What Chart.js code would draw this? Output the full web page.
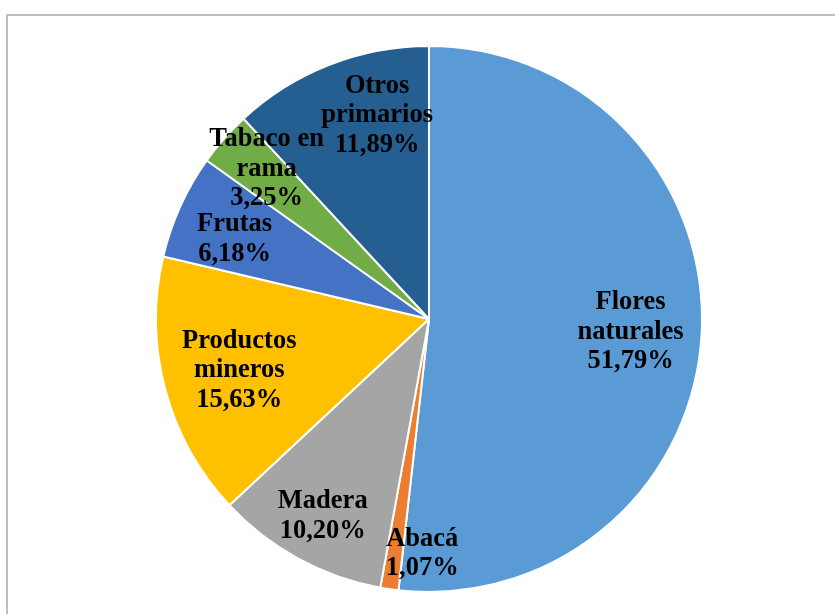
<!DOCTYPE html>
<html>
<head>
<meta charset="utf-8">
<script src="https://cdn.jsdelivr.net/npm/chart.js@4/dist/chart.umd.min.js"></script>
<style>
  html, body { margin: 0; padding: 0; background: #ffffff; }
  #wrap { position: relative; width: 835px; height: 614px; }
</style>
</head>
<body>
<div id="wrap"><canvas id="pieChart" width="835" height="614"></canvas></div>
<script>
// categories (lines as shown in the labels) and shares in %
var categories = [
  ['Flores', 'naturales'],
  ['Abacá'],
  ['Madera'],
  ['Productos', 'mineros'],
  ['Frutas'],
  ['Tabaco en', 'rama'],
  ['Otros', 'primarios']
];
var shares = [51.79, 1.07, 10.20, 15.63, 6.18, 3.25, 11.89];
var sliceColors = ['#5B9BD5', '#ED7D31', '#A5A5A5', '#FFC000', '#4472C4', '#70AD47', '#255E91'];

// where each label sits: fraction of radius, angle shift (deg) from the slice middle
var labelPlace = [
  { r: 0.74, da: 0.5 },
  { r: 0.86, da: -6.7 },
  { r: 0.82, da: -0.3 },
  { r: 0.72, da: -0.3 },
  { r: 0.77, da: -2.0 },
  { r: 0.81, da: 1.4 },
  { r: 0.77, da: 7.1 }
];

var framePlugin = {
  id: 'frame',
  beforeDraw: function(chart) {
    var c = chart.ctx;
    c.save();
    c.strokeStyle = '#BFBFBF';
    c.lineWidth = 2;
    c.strokeRect(7, 15, 900, 700);
    c.restore();
  }
};

var sliceLabels = {
  id: 'sliceLabels',
  afterDatasetsDraw: function(chart) {
    var c = chart.ctx;
    var meta = chart.getDatasetMeta(0);
    c.save();
    c.fillStyle = '#000000';
    c.font = 'bold 26.5px "Liberation Serif", "Times New Roman", serif';
    c.textAlign = 'center';
    c.textBaseline = 'middle';
    meta.data.forEach(function(arc, i) {
      var mid = (arc.startAngle + arc.endAngle) / 2 + labelPlace[i].da * Math.PI / 180;
      var rr = arc.outerRadius * labelPlace[i].r;
      var x = arc.x + Math.cos(mid) * rr;
      var y = arc.y + Math.sin(mid) * rr;
      var lines = categories[i].concat([shares[i].toFixed(2).replace('.', ',') + '%']);
      var lh = 29.5;
      var y0 = y - (lines.length - 1) * lh / 2;
      lines.forEach(function(t, k) {
        c.fillText(t, x, y0 + k * lh);
      });
    });
    c.restore();
  }
};

new Chart(document.getElementById('pieChart').getContext('2d'), {
  type: 'pie',
  data: {
    labels: categories.map(function(l) { return l.join(' '); }),
    datasets: [{
      data: shares,
      backgroundColor: sliceColors,
      borderColor: '#ffffff',
      borderWidth: 2
    }]
  },
  options: {
    responsive: false,
    animation: false,
    layout: { padding: { left: 155, right: 132, top: 45, bottom: 21 } },
    plugins: {
      legend: { display: false },
      tooltip: { enabled: false }
    }
  },
  plugins: [framePlugin, sliceLabels]
});
</script>
</body>
</html>
